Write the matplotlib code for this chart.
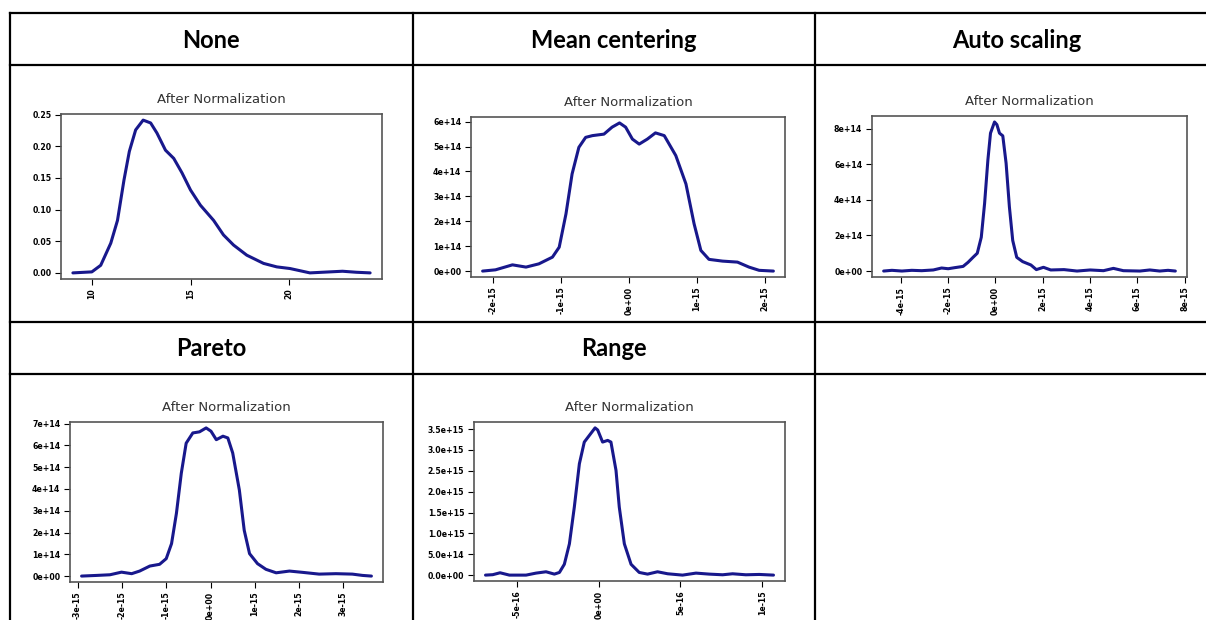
import numpy as np
import matplotlib.pyplot as plt
from matplotlib.lines import Line2D

# header labels of the table cells
headers = ["None", "Mean centering", "Auto scaling", "Pareto", "Range"]

# density curves (x, y)
none_x = [9.04, 10.0, 10.45, 10.96, 11.3, 11.63, 11.9, 12.22, 12.6, 12.98, 13.3, 13.73,
          14.15, 14.57, 15.0, 15.5, 16.17, 16.67, 17.18, 17.85, 18.7, 19.37, 20.04,
          21.05, 22.06, 22.7, 23.4, 24.1]
none_y = [0.0, 0.0016, 0.012, 0.047, 0.083, 0.147, 0.192, 0.226, 0.2415, 0.237, 0.221,
          0.194, 0.181, 0.158, 0.131, 0.107, 0.083, 0.060, 0.044, 0.028, 0.015, 0.0095,
          0.0069, 0.0, 0.0016, 0.0026, 0.001, 0.0]

mean_x = [-2.16, -1.97, -1.72, -1.52, -1.33, -1.13, -1.03, -0.93, -0.84, -0.74, -0.64,
          -0.54, -0.37, -0.25, -0.14, -0.05, 0.05, 0.15, 0.27, 0.39, 0.52, 0.69, 0.84,
          0.96, 1.06, 1.18, 1.38, 1.6, 1.77, 1.92, 2.13]
mean_y = [0.0, 0.05, 0.25, 0.16, 0.29, 0.56, 0.96, 2.3, 3.9, 4.97, 5.37, 5.44, 5.5, 5.78,
          5.95, 5.78, 5.3, 5.1, 5.3, 5.55, 5.44, 4.64, 3.5, 1.9, 0.83, 0.47, 0.4, 0.36,
          0.16, 0.03, 0.0]

auto_x = [-4.73, -4.38, -3.96, -3.54, -3.12, -2.63, -2.28, -2.0, -1.72, -1.37, -1.16,
          -0.95, -0.77, -0.6, -0.46, -0.32, -0.21, -0.04, 0.06, 0.17, 0.31, 0.45, 0.59,
          0.73, 0.9, 1.15, 1.5, 1.73, 2.03, 2.34, 2.9, 3.45, 4.01, 4.57, 4.99, 5.41,
          6.11, 6.53, 6.95, 7.3, 7.61]
auto_y = [0.0, 0.04, 0.0, 0.04, 0.02, 0.06, 0.17, 0.13, 0.19, 0.26, 0.49, 0.77, 1.0, 1.9,
          3.8, 6.25, 7.75, 8.38, 8.23, 7.75, 7.6, 6.06, 3.6, 1.72, 0.77, 0.53, 0.34, 0.08,
          0.21, 0.06, 0.08, 0.0, 0.06, 0.02, 0.15, 0.02, 0.0, 0.06, 0.0, 0.04, 0.0]

pareto_x = [-2.91, -2.57, -2.27, -2.01, -1.78, -1.6, -1.37, -1.15, -1.0, -0.88, -0.77,
            -0.66, -0.55, -0.4, -0.25, -0.1, 0.01, 0.13, 0.28, 0.39, 0.5, 0.65, 0.76,
            0.88, 1.06, 1.25, 1.48, 1.78, 2.08, 2.45, 2.83, 3.2, 3.43, 3.63]
pareto_y = [0.0, 0.03, 0.06, 0.18, 0.11, 0.23, 0.46, 0.54, 0.8, 1.49, 2.88, 4.72, 6.1,
            6.57, 6.62, 6.8, 6.65, 6.26, 6.42, 6.34, 5.65, 3.95, 2.1, 1.03, 0.57, 0.31,
            0.15, 0.23, 0.17, 0.09, 0.11, 0.09, 0.03, 0.0]

range_x = [-6.92, -6.48, -6.03, -5.46, -4.44, -3.83, -3.22, -2.71, -2.4, -2.1, -1.79,
           -1.49, -1.18, -0.88, -0.57, -0.22, -0.06, 0.24, 0.55, 0.75, 1.06, 1.26, 1.57,
           1.98, 2.48, 2.99, 3.6, 4.22, 5.13, 5.95, 6.76, 7.58, 8.19, 9.0, 9.82, 10.69]
range_y = [0.0, 0.01, 0.056, 0.0, 0.0, 0.048, 0.08, 0.024, 0.064, 0.26, 0.75, 1.63, 2.67,
           3.19, 3.35, 3.53, 3.48, 3.19, 3.23, 3.19, 2.51, 1.63, 0.75, 0.26, 0.064, 0.024,
           0.08, 0.032, 0.0, 0.048, 0.024, 0.008, 0.032, 0.008, 0.016, 0.0]

# tick values and labels
none_xt = [10, 15, 20]
none_xl = ["10", "15", "20"]
none_yt = [0, 0.05, 0.10, 0.15, 0.20, 0.25]
none_yl = ["0.00", "0.05", "0.10", "0.15", "0.20", "0.25"]

mean_xt = [-2e-15, -1e-15, 0, 1e-15, 2e-15]
mean_xl = ["-2e-15", "-1e-15", "0e+00", "1e-15", "2e-15"]
mean_yt = [0, 1e14, 2e14, 3e14, 4e14, 5e14, 6e14]
mean_yl = ["0e+00", "1e+14", "2e+14", "3e+14", "4e+14", "5e+14", "6e+14"]

auto_xt = [-4e-15, -2e-15, 0, 2e-15, 4e-15, 6e-15, 8e-15]
auto_xl = ["-4e-15", "-2e-15", "0e+00", "2e-15", "4e-15", "6e-15", "8e-15"]
auto_yt = [0, 2e14, 4e14, 6e14, 8e14]
auto_yl = ["0e+00", "2e+14", "4e+14", "6e+14", "8e+14"]

pareto_xt = [-3e-15, -2e-15, -1e-15, 0, 1e-15, 2e-15, 3e-15]
pareto_xl = ["-3e-15", "-2e-15", "-1e-15", "0e+00", "1e-15", "2e-15", "3e-15"]
pareto_yt = [0, 1e14, 2e14, 3e14, 4e14, 5e14, 6e14, 7e14]
pareto_yl = ["0e+00", "1e+14", "2e+14", "3e+14", "4e+14", "5e+14", "6e+14", "7e+14"]

range_xt = [-5e-16, 0, 5e-16, 1e-15]
range_xl = ["-5e-16", "0e+00", "5e-16", "1e-15"]
range_yt = [0, 5e14, 1e15, 1.5e15, 2e15, 2.5e15, 3e15, 3.5e15]
range_yl = ["0.0e+00", "5.0e+14", "1.0e+15", "1.5e+15", "2.0e+15", "2.5e+15",
            "3.0e+15", "3.5e+15"]

W, H = 1206, 620
fig = plt.figure(figsize=(W / 100, H / 100), dpi=100)


def px_axes(x0, y0, x1, y1):
    return fig.add_axes([x0 / W, 1 - y1 / H, (x1 - x0) / W, (y1 - y0) / H])


def hline(y, x0, x1):
    fig.add_artist(Line2D([x0 / W, x1 / W], [1 - y / H, 1 - y / H],
                          transform=fig.transFigure, color="black", lw=1.6))


def vline(x, y0, y1):
    fig.add_artist(Line2D([x / W, x / W], [1 - y0 / H, 1 - y1 / H],
                          transform=fig.transFigure, color="black", lw=1.6))


# table grid
for y in [13, 65, 322, 374]:
    hline(y, 10, W)
for x in [10, 413, 815]:
    vline(x, 13, H)

header_pos = [(211, 40), (614, 40), (1017, 40), (211, 349), (614, 349)]
for text, (cx, cy) in zip(headers, header_pos):
    fig.text(cx / W, 1 - cy / H, text, ha="center", va="center",
             fontsize=17, fontweight="bold", family="Lato")


def density(box, xs, ys, xscale, yscale, xt, xl, yt, yl):
    ax = px_axes(*box)
    ax.plot(np.array(xs) * xscale, np.array(ys) * yscale, color="#18188c", lw=2.2,
            solid_joinstyle="round", solid_capstyle="round")
    ax.margins(0.04)
    ax.set_xticks(xt)
    ax.set_xticklabels(xl, rotation=90)
    ax.set_yticks(yt)
    ax.set_yticklabels(yl)
    ax.tick_params(direction="out", length=4, width=0.8, labelsize=5.6,
                   pad=3, colors="black")
    for lab in ax.get_xticklabels() + ax.get_yticklabels():
        lab.set_fontweight("bold")
    for sp in ax.spines.values():
        sp.set_color("#555555")
        sp.set_linewidth(1.2)
    ax.set_title("After Normalization", fontsize=9.5, color="#333333", pad=8)
    return ax


density((61, 114, 382, 279), none_x, none_y, 1, 1, none_xt, none_xl, none_yt, none_yl)
density((471, 117, 785, 277), mean_x, mean_y, 1e-15, 1e14, mean_xt, mean_xl, mean_yt, mean_yl)
density((872, 116, 1187, 277), auto_x, auto_y, 1e-15, 1e14, auto_xt, auto_xl, auto_yt, auto_yl)
density((70, 422, 383, 582), pareto_x, pareto_y, 1e-15, 1e14,
        pareto_xt, pareto_xl, pareto_yt, pareto_yl)
density((474, 422, 785, 581), range_x, range_y, 1e-16, 1e15,
        range_xt, range_xl, range_yt, range_yl)

fig.savefig("out.png", dpi=100)
